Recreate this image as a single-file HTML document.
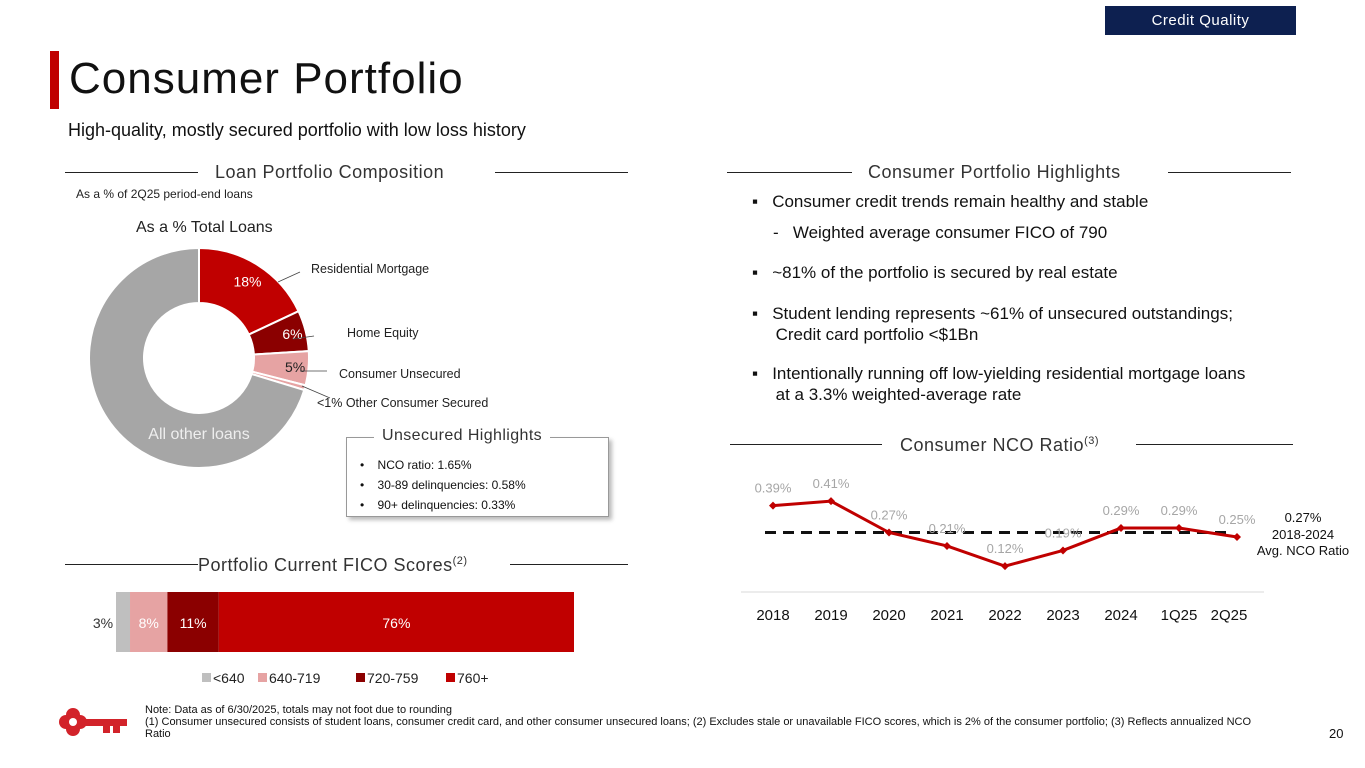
<!DOCTYPE html>
<html><head><meta charset="utf-8">
<style>
body{margin:0;width:1365px;height:768px;overflow:hidden;background:#fff;font-family:"Liberation Sans",sans-serif;position:relative}
.a{position:absolute;white-space:nowrap}
.hl{position:absolute;height:1px;background:#222}
.sec{position:absolute;font-size:18px;color:#333;letter-spacing:0.5px}
.bul{font-size:17px;color:#111}
</style></head><body>
<div class="a" style="left:1105px;top:6px;width:191px;height:29px;background:#0d2050;color:#fff;font-size:15px;line-height:29px;text-align:center;letter-spacing:0.5px">Credit Quality</div>
<div class="a" style="left:50px;top:51px;width:9px;height:58px;background:#c00000"></div>
<div class="a" style="left:69px;top:54px;font-size:44px;color:#111;letter-spacing:1px">Consumer Portfolio</div>
<div class="a" style="left:68px;top:120px;font-size:18px;color:#111">High-quality, mostly secured portfolio with low loss history</div>

<div class="hl" style="left:65px;top:172px;width:133px"></div><div class="hl" style="left:495px;top:172px;width:133px"></div>
<div class="sec" style="left:215px;top:162px">Loan Portfolio Composition</div>
<div class="a" style="left:76px;top:187px;font-size:12px;color:#222">As a % of 2Q25 period-end loans</div>
<div class="a" style="left:136px;top:219px;font-size:16px;color:#222">As a % Total Loans</div>

<svg class="a" id="donut" style="left:0;top:0" width="640" height="540"></svg>

<div class="a" style="left:346px;top:437px;width:261px;height:78px;border:1px solid #999;box-shadow:3px 3px 4px #bbb;background:#fff"></div>
<div class="a" style="left:374px;top:427px;padding:0 8px;background:#fff;font-size:16px;color:#333;letter-spacing:0.4px">Unsecured Highlights</div>
<div class="a" style="left:360px;top:455px;font-size:12px;color:#111;line-height:20px">•&nbsp;&nbsp;&nbsp;&nbsp;NCO ratio: 1.65%<br>•&nbsp;&nbsp;&nbsp;&nbsp;30-89 delinquencies: 0.58%<br>•&nbsp;&nbsp;&nbsp;&nbsp;90+ delinquencies: 0.33%</div>

<div class="hl" style="left:65px;top:564px;width:133px"></div><div class="hl" style="left:510px;top:564px;width:118px"></div>
<div class="sec" style="left:198px;top:555px">Portfolio Current FICO Scores<sup style="font-size:11px">(2)</sup></div>
<svg class="a" id="fico" style="left:0;top:580px" width="640" height="110"></svg>

<div class="hl" style="left:727px;top:172px;width:125px"></div><div class="hl" style="left:1168px;top:172px;width:123px"></div>
<div class="sec" style="left:868px;top:162px">Consumer Portfolio Highlights</div>
<div class="a bul" style="left:752px;top:192px">▪&nbsp;&nbsp;&nbsp;Consumer credit trends remain healthy and stable</div>
<div class="a bul" style="left:773px;top:223px">-&nbsp;&nbsp;&nbsp;Weighted average consumer FICO of 790</div>
<div class="a bul" style="left:752px;top:263px">▪&nbsp;&nbsp;&nbsp;~81% of the portfolio is secured by real estate</div>
<div class="a bul" style="left:752px;top:303px;line-height:21px">▪&nbsp;&nbsp;&nbsp;Student lending represents ~61% of unsecured outstandings;<br>&nbsp;&nbsp;&nbsp;&nbsp;&nbsp;Credit card portfolio &lt;$1Bn</div>
<div class="a bul" style="left:752px;top:363px;line-height:21px">▪&nbsp;&nbsp;&nbsp;Intentionally running off low-yielding residential mortgage loans<br>&nbsp;&nbsp;&nbsp;&nbsp;&nbsp;at a 3.3% weighted-average rate</div>

<div class="hl" style="left:730px;top:444px;width:152px"></div><div class="hl" style="left:1136px;top:444px;width:157px"></div>
<div class="sec" style="left:900px;top:435px">Consumer NCO Ratio<sup style="font-size:11px">(3)</sup></div>
<svg class="a" id="nco" style="left:700px;top:460px" width="665" height="170"></svg>

<svg class="a" style="left:55px;top:700px" width="75" height="45" viewBox="0 0 75 45">
<g fill="#d2232a"><circle cx="18" cy="15" r="7"/><circle cx="18" cy="29" r="7"/><circle cx="11" cy="22" r="7"/><circle cx="25" cy="22" r="7"/><rect x="30" y="19" width="42" height="7"/><rect x="48" y="24" width="7" height="9"/><rect x="58" y="24" width="7" height="9"/></g>
<circle cx="18" cy="22" r="4" fill="#fff"/></svg>
<div class="a" style="left:145px;top:704px;font-size:11px;color:#111;line-height:12px;white-space:normal;width:1130px">Note: Data as of 6/30/2025, totals may not foot due to rounding<br>(1) Consumer unsecured consists of student loans, consumer credit card, and other consumer unsecured loans; (2) Excludes stale or unavailable FICO scores, which is 2% of the consumer portfolio; (3) Reflects annualized NCO Ratio</div>
<div class="a" style="left:1329px;top:726px;font-size:13px;color:#111">20</div>

<script>
const NS='http://www.w3.org/2000/svg';
const donutLabels=['18%','6%','5%','','All other loans'];
const donutValues=[18,6,5,0.7,70.3];
const donutColors=['#c00000','#8b0000','#e6a3a3','#e6a3a3','#a6a6a6'];
const ficoLabels=['<640','640-719','720-759','760+'];
const ficoValues=[3,8,11,76];
const ficoColors=['#bfbfbf','#e6a3a3','#8b0000','#c00000'];
const ncoCats=['2018','2019','2020','2021','2022','2023','2024','1Q25','2Q25'];
const ncoValues=[0.39,0.41,0.27,0.21,0.12,0.19,0.29,0.29,0.25];
const ncoAvg=[0.27];
function mk(p,t,a){const e=document.createElementNS(NS,t);for(const k in a)e.setAttribute(k,a[k]);p.appendChild(e);return e;}
// donut
(function(){
 const s=document.getElementById('donut');const cx=199,cy=358,R=110,r=55;
 const tot=donutValues.reduce((a,b)=>a+b,0);let a0=0;
 donutValues.forEach((v,i)=>{
  const a1=a0+v/tot*2*Math.PI;
  const p=(ang,rad)=>[cx+rad*Math.sin(ang),cy-rad*Math.cos(ang)];
  const [x1,y1]=p(a0,R),[x2,y2]=p(a1,R),[x3,y3]=p(a1,r),[x4,y4]=p(a0,r);const lg=(a1-a0)>Math.PI?1:0;
  const e=mk(s,'path',{d:`M${x1},${y1}A${R},${R} 0 ${lg} 1 ${x2},${y2}L${x3},${y3}A${r},${r} 0 ${lg} 0 ${x4},${y4}Z`,fill:donutColors[i],stroke:'#fff','stroke-width':2});
  
  
  if(donutLabels[i]){const m=(a0+a1)/2;let tx,ty;
   if(i==4){tx=cx;ty=cy+76;}else{const rr=i==0?(R+r)/2+8:(R+r)/2+14;[tx,ty]=p(m,rr);}
   const t=mk(s,'text',{x:tx,y:ty+5,'text-anchor':'middle','font-size':i==4?16:14,fill:i==2?'#222':(i==4?'#eee':'#fff')});t.textContent=donutLabels[i];
   
   }
  a0=a1;});
 const lines=[[278,282,300,272,'Residential Mortgage',311,272],[293,339,314,336,'Home Equity',347,336],[300,371,327,371,'Consumer Unsecured',339,377],[302,386,330,398,'<1% Other Consumer Secured',317,406]];
 lines.forEach(L=>{mk(s,'line',{x1:L[0],y1:L[1],x2:L[2],y2:L[3],stroke:'#444','stroke-width':0.8});const t=mk(s,'text',{x:L[5],y:L[6]+1,'font-size':12.5,fill:'#222'});t.textContent=L[4];
  
  
  if(L[4]=='Consumer Unsecured'){const u=mk(s,'tspan',{'font-size':8,dy:-5});u.textContent='(1)';}});
})();
// fico
(function(){
 const s=document.getElementById('fico');const x0=116,w=458,tot=ficoValues.reduce((a,b)=>a+b,0);
 const X=v=>x0+v/tot*w;let c=0;
 ficoValues.forEach((v,i)=>{const e=mk(s,'rect',{x:X(c),y:12,width:X(c+v)-X(c),height:60,fill:ficoColors[i]});
  
  
  const t=mk(s,'text',{x:i==0?X(c)-13:(X(c)+X(c+v))/2,y:48,'text-anchor':'middle','font-size':14,fill:i==0?'#333':'#fff'});t.textContent=v+'%';
  
  
  c+=v;});
 const lx=[202,258,356,446];
 ficoLabels.forEach((l,i)=>{const e=mk(s,'rect',{x:lx[i],y:93,width:9,height:9,fill:ficoColors[i]});
  
  
  const t=mk(s,'text',{x:lx[i]+11,y:103,'font-size':14,fill:'#222'});t.textContent=l;
  
  });
})();
// nco
(function(){
 const s=document.getElementById('nco');
 const X=i=>73+i*58;const Y=v=>133-v*224;
 mk(s,'line',{x1:41,y1:132,x2:564,y2:132,stroke:'#d9d9d9','stroke-width':1});
 const av=mk(s,'line',{x1:65,y1:Y(ncoAvg[0]),x2:533,y2:Y(ncoAvg[0]),stroke:'#111','stroke-width':3,'stroke-dasharray':'11,7'});
 
 
 const pl=mk(s,'polyline',{points:ncoValues.map((v,i)=>X(i)+','+Y(v)).join(' '),fill:'none',stroke:'#c00000','stroke-width':3});
 
 
 ncoValues.forEach((v,i)=>{const x=X(i),y=Y(v);
  const d=mk(s,'path',{d:`M${x},${y-4}L${x+4},${y}L${x},${y+4}L${x-4},${y}Z`,fill:'#c00000'});
  
  
  const t=mk(s,'text',{x:x,y:y-13,'text-anchor':'middle','font-size':13,fill:'#a6a6a6'});t.textContent=v.toFixed(2)+'%';
  
  
  const c=mk(s,'text',{x:i==8?x-8:x,y:160,'text-anchor':'middle','font-size':15,fill:'#111'});c.textContent=ncoCats[i];
  
  });
 [[ncoAvg[0].toFixed(2)+'%',62],['2018-2024',79],['Avg. NCO Ratio',95]].forEach(a=>{const t=mk(s,'text',{x:603,y:a[1],'text-anchor':'middle','font-size':13,fill:'#111'});t.textContent=a[0];
  
  });
})();
</script>
</body></html>
